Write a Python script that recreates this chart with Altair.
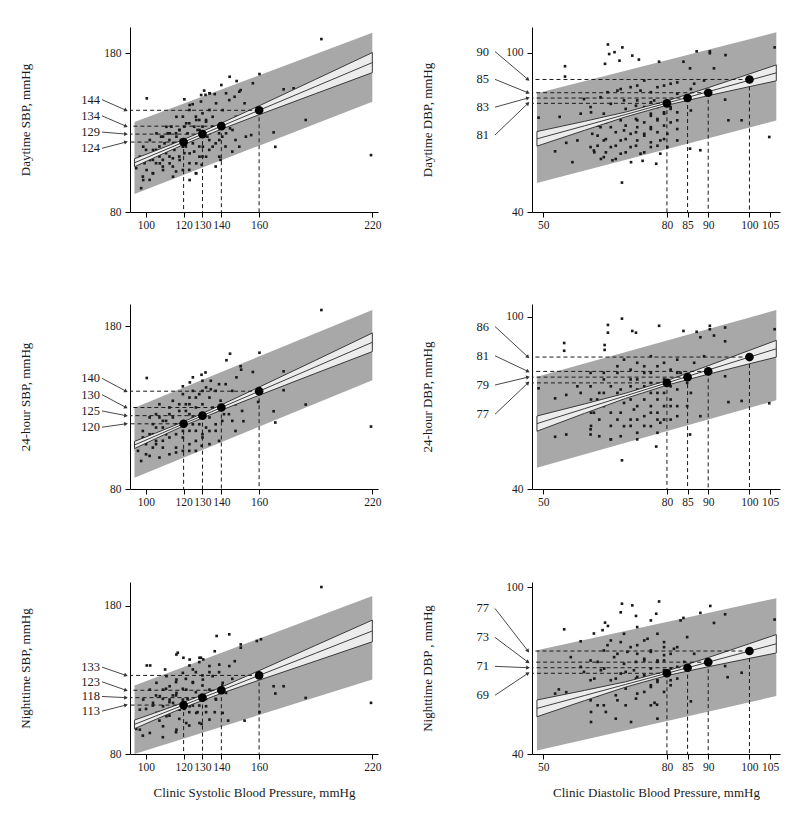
import math
import altair as alt
import pandas as pd

FONT = "Liberation Serif"

# ---------------- data ----------------
sbp_ticks = [100, 120, 130, 140, 160, 220]
dbp_ticks = [50, 80, 85, 90, 100, 105]
marker_x_sbp = [120, 130, 140, 160]
marker_x_dbp = [80, 85, 90, 100]

day_sbp_vals = [124, 129, 134, 144]
h24_sbp_vals = [120, 125, 130, 140]
night_sbp_vals = [113, 118, 123, 133]
day_dbp_vals = [81, 83, 85, 90]
h24_dbp_vals = [77, 79, 81, 86]
night_dbp_vals = [69, 71, 73, 77]

band_x_sbp = [94, 105, 115, 125, 140, 160, 190, 220]
band_x_dbp = [48.5, 60, 70, 80, 90, 100, 106.5]
pi_x_sbp = [94, 220]
pi_x_dbp = [48.5, 106.5]

day_sbp_fit = [111, 116.5, 121.5, 126.5, 134, 144, 159, 174]
day_sbp_ci_lo = [108.5, 114.5, 119.8, 124.9, 132.1, 141.2, 154.5, 167.7]
day_sbp_ci_hi = [113.5, 118.5, 123.2, 128.1, 135.9, 146.8, 163.5, 180.3]
day_sbp_pi_lo = [91.3, 149.4]
day_sbp_pi_hi = [136.6, 192.8]

h24_sbp_fit = [107, 112.5, 117.5, 122.5, 130, 140, 155, 170]
h24_sbp_ci_lo = [104.8, 110.8, 116.1, 121.2, 128.4, 137.5, 151.0, 164.3]
h24_sbp_ci_hi = [109.2, 114.2, 118.9, 123.8, 131.6, 142.5, 159.0, 175.7]
h24_sbp_pi_lo = [86.9, 146.7]
h24_sbp_pi_hi = [129.9, 189.8]

night_sbp_fit = [100, 105.5, 110.5, 115.5, 123, 133, 148, 163]
night_sbp_ci_lo = [97.1, 103.2, 108.6, 113.7, 120.9, 129.8, 142.7, 155.7]
night_sbp_ci_hi = [102.9, 107.8, 112.4, 117.3, 125.1, 136.2, 153.3, 170.3]
night_sbp_pi_lo = [80.0, 130.2]
night_sbp_pi_hi = [126.2, 186.5]

day_dbp_fit = [67.6, 72.5, 76.8, 81.1, 85.4, 89.7, 92.5]
day_dbp_ci_lo = [64.85, 70.8, 75.9, 80.3, 83.9, 87.3, 89.5]
day_dbp_ci_hi = [70.35, 74.2, 77.7, 81.9, 86.9, 92.1, 95.5]
day_dbp_pi_lo = [50.9, 74.5]
day_dbp_pi_hi = [84.8, 107.8]

h24_dbp_fit = [62.8, 68, 72.5, 77, 81.5, 86, 88.9]
h24_dbp_ci_lo = [60.15, 66.36, 71.6, 76.21, 80.02, 83.66, 85.98]
h24_dbp_ci_hi = [65.45, 69.64, 73.4, 77.79, 82.98, 88.34, 91.82]
h24_dbp_pi_lo = [47.4, 70.9]
h24_dbp_pi_hi = [79.1, 102.4]

night_dbp_fit = [56.4, 61, 65, 69, 73, 77, 79.6]
night_dbp_ci_lo = [53.4, 59.16, 64.06, 68.18, 71.36, 74.36, 76.29]
night_dbp_ci_hi = [59.4, 62.84, 65.94, 69.82, 74.64, 79.64, 82.91]
night_dbp_pi_lo = [41.3, 60.8]
night_dbp_pi_hi = [77.3, 96.0]

day_sbp_pts = [
    (100.5, 151.5), (120.4, 150.9), (124.8, 147.8), (129.2, 149.5), (130.9, 156.4), (131.6, 153.7),
    (133.9, 154.7), (140, 159.9), (144.4, 165.1), (148.1, 162.4), (150.2, 156.7), (147, 152.5),
    (156.7, 161), (160.2, 166.8), (152.3, 148.4), (136.5, 154.2), (173, 157.2), (178.3, 157.8),
    (184.7, 137.9), (167.7, 130.1), (168.6, 121), (155.8, 128.4), (193, 188.8), (219.3, 115.8),
    (159.5, 144), (144.6, 132.6), (147.5, 125.3), (145.8, 118), (139.6, 112.8), (137, 108.6),
    (129.6, 109.7), (126.5, 104.4), (123, 106.5), (116, 105.5), (109, 108.6), (103.7, 104.4),
    (98.4, 102.3), (97.5, 95), (94.9, 107.6), (102, 100.2), (107.2, 114.9), (105.4, 119.1),
    (112.5, 125.3), (116, 121.2), (112.5, 114.9), (117.7, 131.6), (123, 135.8), (126.5, 140),
    (130, 142.1), (133.7, 144.2), (124.7, 125.3), (128.3, 121.2), (132.6, 127.4), (135.3, 133.7),
    (133.6, 119.1), (120.4, 117), (114.3, 113.8), (109.9, 123.2), (108.1, 127.4), (113.5, 133.7),
    (119.6, 140), (123.1, 144.2), (117.7, 114.9), (130, 114.9), (137, 123.2), (140.5, 127.4),
    (142.2, 121.2), (109, 112.8), (102, 114.9), (105.4, 110.7), (110.7, 117), (115.1, 119.1),
    (121.2, 121.2), (125.6, 118), (128.3, 127.4), (118.6, 125.3), (122.1, 129.5), (127.4, 131.6),
    (130, 133.7), (116, 129.5), (111.6, 129.5), (107.2, 121.2), (103.7, 112.8), (99.3, 110.7),
    (96.6, 110.7), (100.1, 119.1), (114.3, 108.6), (123.1, 110.7), (133.6, 125.3), (138.8, 129.5),
    (131.9, 137.9), (125.6, 133.7), (120.4, 133.7), (128.3, 137.9),
]
day_sbp_pts_dense = [
    (123.2, 147.3), (129.3, 153.6), (133.7, 154.7), (137.2, 148.4), (142.5, 154.7), (149.5, 155.7),
    (144.2, 150.4), (116.2, 139.9), (121.4, 135.8), (126.7, 137.9), (131.9, 136.8), (135.4, 139.9),
    (110.9, 133.6), (105.6, 129.5), (102.1, 125.3), (98.6, 121.1), (96.8, 114.8), (102.1, 112.7),
    (107.4, 116.9), (112.6, 121.1), (116.2, 127.4), (114.4, 123.2), (119.6, 121.1), (124.9, 123.2),
    (123.2, 116.9), (117.9, 112.7), (112.6, 110.6), (109.1, 106.4), (103.8, 104.3), (98.6, 100.1),
    (119.6, 106.4), (126.7, 110.6), (131.9, 114.8), (135.4, 121.1), (138.9, 125.3), (142.5, 129.5),
    (145.9, 131.6), (126.7, 104.3), (128.4, 114.8), (109.1, 127.4), (112.6, 129.5), (117.9, 131.6),
    (128.4, 131.6), (133.7, 129.5), (107.4, 110.6), (103.8, 119), (100.4, 106.4), (114.4, 102.2),
    (123.2, 100.1), (130.2, 121.1), (138.9, 114.8), (149.5, 121.1), (153, 127.4), (147.7, 139.9),
    (140.7, 144.1),
]
h24_sbp_pts = [
    (193, 189.8), (219.3, 118.3), (100.5, 148.1), (144.6, 163), (142.7, 159), (160.2, 163.6),
    (150.2, 155.3), (150.5, 153.2), (156.7, 151.8), (148, 148.5), (173, 152.2), (178.3, 148.1),
    (184.7, 131.8), (173, 140.6), (167.7, 127.7), (168.6, 120.8), (151.7, 121.6), (159.5, 133.4),
    (131.6, 151.5), (129.5, 150.1), (123.3, 145.4), (119.6, 143), (134.4, 146.4), (139.6, 134.2),
    (145.8, 140.2), (147.5, 132), (141.4, 125.9), (137, 115.7), (130, 111.6), (129.6, 106.5),
    (123, 103.4), (116, 102.4), (107.2, 99.3), (102, 100.3), (97.5, 97.2), (95.8, 103.4),
    (94.6, 107.5), (98.4, 111.6), (103.7, 113.6), (109, 117.7), (107.2, 123.9), (112.5, 125.9),
    (116, 117.7), (119.6, 120.8), (123.1, 125.9), (126.5, 130), (130, 132), (133.7, 136.1),
    (126.5, 136.1), (121.2, 132), (117.7, 127.9), (114.3, 134.1), (119.6, 138.2), (124.9, 140.2),
    (112.5, 111.6), (105.4, 107.5), (100.1, 107.5), (109, 109.6), (119.6, 111.6), (126.5, 115.7),
    (133.7, 123.9), (137, 127.9), (131.9, 117.7), (123.1, 115.7), (116, 113.6), (110.7, 121.8),
    (103.7, 119.8), (114.3, 123.9), (128.3, 123.9), (123.1, 132), (130, 140.2), (138.8, 144.3),
    (134.4, 141.2), (107.2, 132),
]
h24_sbp_pts_dense = [
    (98.4, 115.6), (102, 113.6), (105.4, 109.5), (109, 105.4), (112.5, 101.3), (116, 105.4),
    (119.6, 103.4), (123.1, 107.5), (126.5, 109.5), (130, 113.6), (133.7, 115.6), (137, 119.7),
    (140.5, 121.8), (144, 125.9), (112.5, 130), (117.7, 132), (123.1, 136.1), (128.3, 138.2),
    (131.9, 142.3), (137, 140.2), (142.3, 144.3), (102, 123.9), (105.4, 125.9), (109, 121.8),
    (116, 119.7), (119.6, 115.6), (124.9, 119.7), (128.3, 119.7), (131.9, 125.9), (135.3, 130),
    (121.2, 127.9), (124.9, 123.9), (114.3, 117.7), (110.7, 113.6), (105.4, 117.7), (100.1, 101.3),
    (96.6, 107.5), (103.7, 105.4), (126.5, 103.4), (133.7, 107.5), (138.8, 109.5), (147.5, 115.6),
    (145.8, 121.8), (151, 127.9), (130, 146.4), (124.9, 148.5),
]
night_sbp_pts = [
    (193, 192.6), (219.3, 114.5), (100.5, 139.7), (102.3, 139.7), (110.2, 137), (116.9, 148.3),
    (119.9, 144.9), (129.2, 144.9), (130.4, 143.8), (137.5, 159.6), (144.2, 160.7), (150.3, 153.9),
    (150.3, 151.7), (147.1, 142.6), (158.8, 156.2), (161, 157.4), (136.5, 149.3), (178.6, 139.7),
    (167.7, 125.7), (168.6, 120.8), (173, 125.7), (184.7, 117.8), (152.3, 102.5), (160.2, 108.2),
    (143.6, 102.5), (136.5, 108.2), (129.5, 100.3), (123, 99.2), (116, 94.7), (109, 91.3),
    (98.4, 92.4), (94.9, 96.9), (96.6, 100.3), (102, 103.7), (107.2, 102.5), (112.5, 105.9),
    (117.7, 103.7), (123, 108.2), (128.3, 112.7), (131.9, 117.2), (135.3, 121.7), (140.5, 126.2),
    (145.8, 130.7), (130, 126.2), (126.5, 121.7), (122.1, 117.2), (117.7, 112.7), (112.5, 110.4),
    (107.2, 108.2), (103.7, 112.7), (100.1, 110.4), (109, 117.2), (114.3, 119.5), (119.6, 124),
    (124.9, 128.5), (130, 133), (133.7, 135.2), (126.5, 135.2), (121.2, 130.7), (116, 128.5),
    (110.7, 124), (105.4, 119.5), (123.1, 139.7), (128.3, 142), (138.8, 135.2), (137, 117.2),
    (131.9, 108.2), (124.9, 112.7), (116, 119.5), (112.5, 115), (120.4, 110.4), (127.4, 108.2),
]
night_sbp_pts_dense = [
    (116.2, 147.1), (123.2, 143.7), (128.4, 144.9), (133.7, 139.3), (138.9, 140.3), (144.2, 139.3),
    (110.9, 132.5), (105.6, 128), (102.1, 123.4), (98.6, 116.7), (96.8, 109.9), (100.4, 103.2),
    (105.6, 107.7), (109.1, 112.2), (112.6, 116.7), (116.2, 121.2), (121.4, 123.4), (124.9, 128),
    (130.2, 130.2), (135.4, 132.5), (116.2, 130.2), (119.6, 134.7), (124.9, 137), (112.6, 125.7),
    (107.4, 119), (103.8, 114.5), (110.9, 105.5), (117.9, 109.9), (123.2, 112.2), (126.7, 107.7),
    (131.9, 112.2), (137.2, 116.7), (142.5, 121.2), (147.7, 125.7), (121.4, 100.9), (116.2, 96.4),
    (128.4, 100.9), (133.7, 103.2), (140.7, 107.7), (96.8, 96.4), (102.1, 94.2), (109.1, 98.7),
    (128.4, 119), (133.7, 123.4), (140.7, 128), (114.4, 114.5), (119.6, 116.7), (109.1, 123.4),
]
day_dbp_pts = [
    (65.7, 103.2), (67.3, 100.3), (69.2, 102.1), (66, 99.6), (68.5, 97.1), (71.6, 99), (73.2, 97.5),
    (65, 95.9), (55.3, 95), (55.3, 91.1), (87.2, 100.6), (90.4, 100.6), (90.4, 99.9), (94.2, 99.2),
    (106.1, 102.1), (78.1, 96.7), (84, 96.7), (85.6, 94.2), (91.4, 94.2), (48.9, 75.6), (54, 75.9),
    (52.9, 62.9), (57.1, 58.8), (55.6, 66.1), (69.1, 51.1), (74.1, 59.3), (77.4, 58.2), (85.6, 63.9),
    (88.1, 63.3), (94.9, 74.6), (98.1, 74.6), (104.8, 68.3), (94.1, 82.4), (61.5, 79.6), (61.9, 69.5),
    (62.3, 63.2), (64.7, 60.7), (66.8, 59.5), (68.8, 62), (71.2, 64.5), (72.8, 67), (74.5, 69.5),
    (76.1, 72), (77.7, 74.6), (79.3, 77.1), (80.9, 79.6), (76.1, 64.5), (73.6, 62), (71.2, 69.5),
    (68.8, 67), (66.4, 64.5), (64.7, 67), (63.9, 72), (66.4, 72), (68.8, 74.6), (71.2, 77.1),
    (72.8, 74.6), (74.5, 79.6), (72.8, 82.1), (69.6, 82.1), (66.4, 80.8), (63.9, 83.3), (68, 85.8),
    (71.2, 87.1), (74.5, 89.6), (77.7, 87.1), (80.9, 88.4), (82.5, 84.6), (84.2, 82.1), (85.8, 78.3),
    (82.5, 74.6), (80.1, 69.5), (78.4, 67), (80.1, 64.5), (82.5, 67), (77.7, 79.6), (76.1, 77.1),
    (59.9, 72), (59.1, 77.1), (58.3, 67), (61.5, 64.5), (78.4, 62), (64.7, 77.1), (69.6, 70.8),
    (72.8, 72), (76.9, 82.1), (73.6, 85.8), (86.6, 88.4), (89, 89.6), (92.2, 87.1),
]
day_dbp_pts_dense = [
    (63.2, 72.6), (63.2, 68.8), (63.2, 65), (65.2, 73.8), (65.2, 67.5), (65.2, 62.5), (67.6, 76.3),
    (67.6, 70.1), (67.6, 65), (67.6, 60), (70, 78.9), (70, 72.6), (70, 67.5), (70, 62.5), (72.5, 80.1),
    (72.5, 75.1), (72.5, 70.1), (72.5, 65), (74.5, 78.9), (74.5, 73.8), (74.5, 68.8), (76.1, 81.4),
    (76.1, 76.3), (76.1, 71.3), (76.1, 66.3), (77.7, 80.1), (77.7, 75.1), (77.7, 70.1), (79.3, 77.6),
    (79.3, 72.6), (79.3, 67.5), (80.9, 78.9), (80.9, 73.8), (82.5, 77.6), (82.5, 71.3), (65.6, 85.2),
    (68.8, 86.4), (72.8, 87.7), (76.1, 85.2), (79.3, 87.7), (82.5, 88.9), (85.8, 86.4), (59.9, 82.6),
    (61.6, 77.6), (62.4, 62.5), (64, 60), (71.3, 58.8), (74.5, 62.5), (77.7, 65),
]
h24_dbp_pts = [
    (69.1, 99.4), (65.7, 97.2), (65.7, 94.5), (71.6, 95.1), (72.5, 94.5), (78.1, 96.9), (84, 95.1),
    (87.2, 94.8), (90.4, 96.9), (90.4, 95.7), (94.1, 96.3), (106.1, 95.7), (88.1, 92.9), (91.4, 93.5),
    (94.1, 91.5), (55.1, 90.9), (55.1, 88.2), (64.9, 90.2), (64.9, 88.5), (48.9, 75.1), (52.9, 71.6),
    (55.6, 72.8), (52.9, 58.2), (55.6, 59), (61.5, 59), (66.4, 57.3), (69.1, 50), (77.4, 54.8),
    (85.6, 59), (88.1, 65.4), (94.9, 70.3), (98.1, 70.7), (104.8, 69.9), (94.1, 79.3), (61.5, 80.5),
    (58.3, 75.8), (63.1, 71.2), (64.7, 68.9), (66.4, 66.6), (68, 64.2), (69.6, 61.9), (72.8, 59.6),
    (76.1, 61.9), (74.5, 65.4), (72, 67.7), (69.6, 70), (68, 73.5), (66.4, 75.8), (64.7, 78.2),
    (68, 80.5), (71.2, 78.2), (72.8, 74.7), (74.5, 71.2), (76.1, 68.9), (77.7, 66.6), (79.3, 68.9),
    (80.9, 71.2), (77.7, 73.5), (76.1, 77), (74.5, 80.5), (72.8, 84), (69.6, 85.1), (76.1, 86.3),
    (79.3, 84), (82.5, 85.1), (83.3, 80.5), (84.9, 77), (82.5, 74.7), (80.9, 64.2), (78.4, 63.1),
    (82.5, 68.9), (71.2, 64.2), (64.7, 73.5), (62.3, 66.6), (61.5, 60.8), (86.6, 84), (89, 86.3),
    (92.2, 82.8), (72.8, 68.9),
]
h24_dbp_pts_dense = [
    (61.6, 71.2), (61.6, 66.6), (61.6, 62), (63.6, 73.5), (63.6, 64.2), (63.6, 58.4), (66.4, 71.2),
    (66.4, 62), (68.8, 74.7), (68.8, 66.6), (68.8, 58.4), (71.2, 75.8), (71.2, 71.2), (71.2, 62),
    (72.8, 78.2), (72.8, 64.2), (74.5, 75.8), (74.5, 62), (76.1, 80.5), (76.1, 73.5), (76.1, 66.6),
    (77.7, 71.2), (77.7, 64.2), (79.3, 78.2), (79.3, 73.5), (79.3, 64.2), (80.9, 75.8), (80.9, 68.9),
    (82.5, 80.5), (82.5, 65.4), (68, 82.8), (71.2, 81.6), (74.5, 82.8), (77.7, 82.8), (80.9, 81.6),
    (64.7, 80.5), (61.5, 75.8), (59.1, 73.5), (59.9, 67.7), (66.4, 57.3), (72.8, 57.3), (77.7, 59.6),
    (84.9, 68.9), (85.8, 73.5),
]
night_dbp_pts = [
    (69.1, 94), (71.6, 93.4), (68.8, 90.9), (78.1, 94.8), (77.4, 90.4), (72.5, 89.6), (65, 87.2),
    (65.7, 86), (64.4, 84.5), (62.3, 83.3), (59.1, 80.5), (55.1, 84.8), (90.5, 93.2), (88.1, 90.7),
    (84, 88.9), (94.1, 90.2), (91.4, 87.1), (106.1, 88.3), (52.9, 61.7), (55.6, 62.2), (53.8, 63.2),
    (77, 58.4), (77.6, 57.7), (85.8, 58.9), (94.1, 71.6), (94.7, 67.6), (98.1, 69.2), (104.8, 78.2),
    (61.5, 59.3), (64.7, 57.5), (68, 59.3), (72.8, 61.7), (76.1, 64.1), (74.5, 67.7), (72, 70.1),
    (69.6, 72.4), (67.2, 74.8), (64.7, 77.2), (66.4, 80.8), (69.6, 83.2), (72.8, 85.6), (74.5, 80.8),
    (76.1, 77.2), (77.7, 73.6), (79.3, 70.1), (80.9, 66.5), (82.5, 71.3), (80.9, 76), (79.3, 78.4),
    (77.7, 83.2), (76.1, 88), (83.3, 88), (84.9, 82), (86.6, 76), (85.8, 72.4), (88.1, 72.4),
    (72.8, 76), (71.2, 78.4), (68.8, 68.9), (66.4, 66.5), (64, 70.1), (61.5, 66.5), (61.5, 73.6),
    (59.1, 71.3), (56.7, 74.8), (72.8, 67.7), (77.7, 66.5), (79.3, 73.6), (82.5, 78.4), (68, 76),
    (74.5, 73.6),
]
night_dbp_pts_dense = [
    (61.6, 55.1), (61.6, 51.5), (63.2, 61.1), (63.2, 57.5), (65.2, 62.3), (65.2, 55.1), (67.6, 67.1),
    (67.6, 61.1), (67.6, 52.7), (70, 69.5), (70, 63.5), (70, 57.5), (72.5, 73.1), (72.5, 67.1),
    (72.5, 59.9), (74.5, 74.2), (74.5, 68.3), (74.5, 62.3), (76.1, 76.7), (76.1, 70.7), (76.1, 64.7),
    (76.1, 57.5), (77.7, 73.1), (77.7, 65.9), (79.3, 75.5), (79.3, 69.5), (79.3, 62.3), (80.9, 70.7),
    (80.9, 64.7), (82.5, 67.1), (65.6, 79.1), (68.8, 80.2), (72.8, 79.1), (75.3, 81.4), (79.3, 80.2),
    (81.7, 77.8), (84.2, 73.1), (70.4, 76.7), (63.2, 73.1), (59.9, 69.5), (62.4, 67.1), (64.8, 70.7),
    (71.3, 51.5), (77.7, 52.7),
]

# ---------------- layout / style ----------------
W = 248
H_TOP = 185
H_BOT = 172
PI_COLOR = "#a8a8a8"
CI_FILL = "#ececec"
INK = "#1a1a1a"


def panel(pts, vals, mx, ticks, xdom, ydom, yticks, ytitle, xtitle, H,
          bx, fit, lo, hi, pix, pilo, pihi, lab_center, lab_gap, lab_x, ax0, ax1):
    xaxis_kw = dict(values=ticks, grid=False, labelFlush=False, labelOverlap=False,
                    labelBound=False, tickSize=5, labelPadding=2)
    if xtitle is not None:
        xaxis = alt.Axis(title=xtitle, titlePadding=14, **xaxis_kw)
    else:
        xaxis = alt.Axis(title=None, **xaxis_kw)
    X = lambda f: alt.X(f, type="quantitative",
                        scale=alt.Scale(domain=xdom, nice=False, zero=False), axis=xaxis)
    Y = lambda f: alt.Y(f, type="quantitative",
                        scale=alt.Scale(domain=ydom, nice=False, zero=False),
                        axis=alt.Axis(values=yticks, title=ytitle, grid=False,
                                      labelFlush=False, labelOverlap=False, tickSize=5,
                                      labelPadding=4, titlePadding=71))

    band = pd.DataFrame({"x": bx, "fit": fit, "lo": lo, "hi": hi})
    pib = pd.DataFrame({"x": pix, "lo": pilo, "hi": pihi})
    sc = pd.DataFrame(pts, columns=["x", "y"])
    order = sorted(range(len(vals)), key=lambda i: -vals[i])
    ly = [0.0] * len(vals)
    for rank, i in enumerate(order):
        ly[i] = lab_center + lab_gap * (1.5 - rank)
    span = ydom[1] - ydom[0]
    ang = []
    for i in range(len(vals)):
        dy = H * (ly[i] - vals[i]) / span
        ang.append(math.degrees(math.atan2(dy, ax1 - ax0)) % 360)
    mk = pd.DataFrame({"mx": mx, "val": vals, "ly": ly, "txt": [str(v) for v in vals], "ang": ang})

    pi_layer = alt.Chart(pib).mark_area(color=PI_COLOR, opacity=1).encode(
        x=X("x"), y=Y("lo"), y2="hi")
    pts_layer = alt.Chart(sc).mark_square(size=7, color=INK, opacity=1).encode(
        x=X("x"), y=Y("y"))
    ci_layer = alt.Chart(band).mark_area(fill=CI_FILL, stroke="#2a2a2a", strokeWidth=0.9,
                                         opacity=1).encode(x=X("x"), y=Y("lo"), y2="hi")
    fit_layer = alt.Chart(band).mark_line(color="#2a2a2a", strokeWidth=0.9).encode(
        x=X("x"), y=Y("fit"))
    hdash = alt.Chart(mk).mark_rule(color=INK, strokeDash=[4, 3], strokeWidth=1).encode(
        x=X("mx"), x2=alt.datum(xdom[0]), y=Y("val"))
    vdash = alt.Chart(mk).mark_rule(color=INK, strokeDash=[4, 3], strokeWidth=1).encode(
        x=X("mx"), y=Y("val"), y2=alt.datum(ydom[0]))
    dots = alt.Chart(mk).mark_circle(size=75, color="#000", opacity=1).encode(
        x=X("mx"), y=Y("val"))
    labels = alt.Chart(mk).mark_text(align="right", baseline="middle", font=FONT,
                                     fontSize=12.5, color=INK).encode(
        x=alt.value(lab_x), y=Y("ly"), text="txt:N")
    arrows = alt.Chart(mk).mark_rule(color="#333", strokeWidth=0.9).encode(
        x=alt.value(ax0), x2=alt.value(ax1), y=Y("ly"), y2="val:Q")
    heads = alt.Chart(mk).mark_point(shape="triangle-right", filled=True, size=18,
                                     color="#333", opacity=1).encode(
        x=alt.value(ax1), y=Y("val"), angle=alt.Angle("ang:Q", scale=None))

    return alt.layer(pi_layer, pts_layer, ci_layer, fit_layer, hdash, vdash, dots,
                     arrows, heads, labels).properties(width=W, height=H)


SBP_X = [91.6, 223]
DBP_X = [47.3, 107.4]

p1 = panel(day_sbp_pts + day_sbp_pts_dense, day_sbp_vals, marker_x_sbp, sbp_ticks, SBP_X,
           [80, 196.4], [80, 180], "Daytime SBP, mmHg", None, H_TOP, band_x_sbp, day_sbp_fit,
           day_sbp_ci_lo, day_sbp_ci_hi, pi_x_sbp, day_sbp_pi_lo, day_sbp_pi_hi,
           135.4, 10.2, -30, -28, -4)
p2 = panel(h24_sbp_pts + h24_sbp_pts_dense, h24_sbp_vals, marker_x_sbp, sbp_ticks, SBP_X,
           [80, 193.5], [80, 180], "24-hour SBP, mmHg", None, H_TOP, band_x_sbp, h24_sbp_fit,
           h24_sbp_ci_lo, h24_sbp_ci_hi, pi_x_sbp, h24_sbp_pi_lo, h24_sbp_pi_hi,
           132.9, 10.0, -30, -28, -4)
p3 = panel(night_sbp_pts + night_sbp_pts_dense, night_sbp_vals, marker_x_sbp, sbp_ticks, SBP_X,
           [80, 196], [80, 180], "Nighttime SBP, mmHg", "Clinic Systolic Blood Pressure, mmHg",
           H_BOT, band_x_sbp, night_sbp_fit, night_sbp_ci_lo, night_sbp_ci_hi, pi_x_sbp,
           night_sbp_pi_lo, night_sbp_pi_hi, 123.75, 9.9, -30, -28, -4)
p4 = panel(day_dbp_pts + day_dbp_pts_dense, day_dbp_vals, marker_x_dbp, dbp_ticks, DBP_X,
           [40, 109.8], [40, 100], "Daytime DBP, mmHg", None, H_TOP, band_x_dbp, day_dbp_fit,
           day_dbp_ci_lo, day_dbp_ci_hi, pi_x_dbp, day_dbp_pi_lo, day_dbp_pi_hi,
           84.8, 10.5, -43, -37, -4)
p5 = panel(h24_dbp_pts + h24_dbp_pts_dense, h24_dbp_vals, marker_x_dbp, dbp_ticks, DBP_X,
           [40, 104.5], [40, 100], "24-hour DBP, mmHg", None, H_TOP, band_x_dbp, h24_dbp_fit,
           h24_dbp_ci_lo, h24_dbp_ci_hi, pi_x_dbp, h24_dbp_pi_lo, h24_dbp_pi_hi,
           81.35, 10.2, -43, -37, -4)
p6 = panel(night_dbp_pts + night_dbp_pts_dense, night_dbp_vals, marker_x_dbp, dbp_ticks, DBP_X,
           [40, 101.8], [40, 100], "Nighttime DBP , mmHg", "Clinic Diastolic Blood Pressure, mmHg",
           H_BOT, band_x_dbp, night_dbp_fit, night_dbp_ci_lo, night_dbp_ci_hi, pi_x_dbp,
           night_dbp_pi_lo, night_dbp_pi_hi, 76.7, 10.4, -43, -37, -4)

chart = alt.vconcat(
    alt.hconcat(p1, p4, spacing=40),
    alt.hconcat(p2, p5, spacing=40),
    alt.hconcat(p3, p6, spacing=40),
    spacing=73,
).properties(
    padding={"left": 11, "top": 19, "right": 5, "bottom": 5},
    background="white",
).configure_view(stroke=None).configure_axis(
    labelFont=FONT, titleFont=FONT, labelFontSize=11.5, titleFontSize=13,
    labelColor=INK, titleColor=INK, domainColor="#000", tickColor="#000",
    titleFontWeight="normal",
)

chart.save("out.html", embed_options={"renderer": "svg", "actions": False})
